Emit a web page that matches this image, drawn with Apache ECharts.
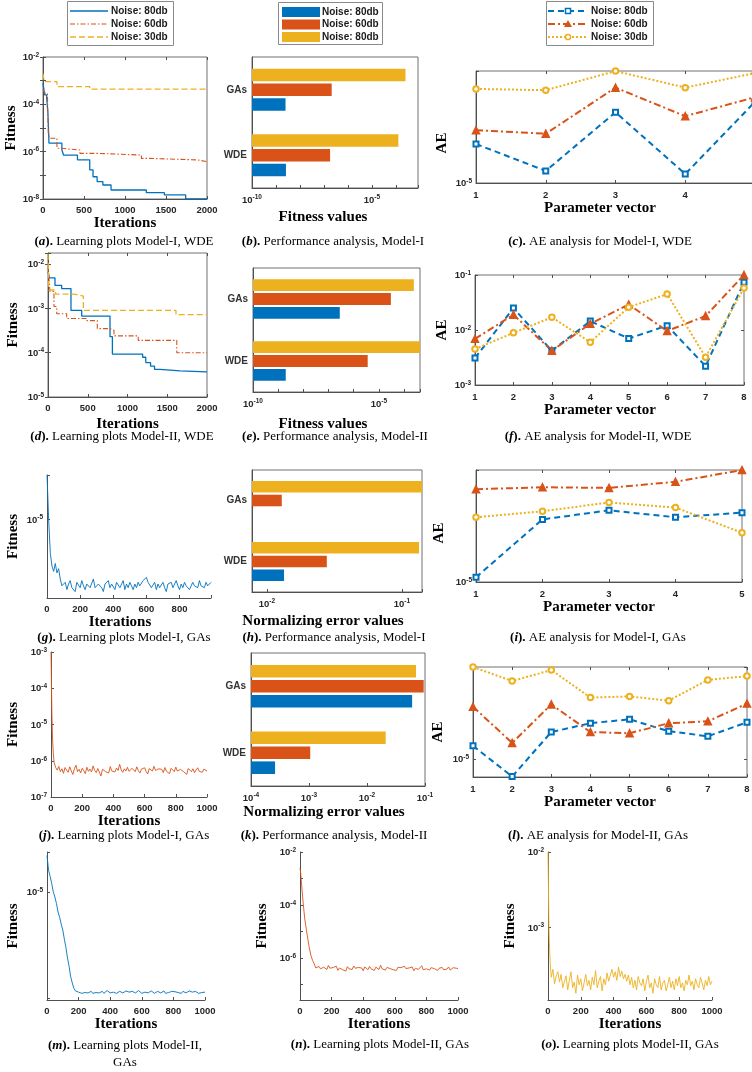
<!DOCTYPE html>
<html><head><meta charset="utf-8"><title>Learning and AE analysis</title>
<script src="https://cdn.jsdelivr.net/npm/echarts@6.0.0/dist/echarts.min.js"></script>
<style>html,body{margin:0;padding:0;background:#fff;}#chart{width:752px;height:1072px;}</style>
</head><body><div id="chart"></div>
<script>
// ===================== DATA =====================
// (a) Learning plots Model-I, WDE  (step curves)
const aIter80 = [0,20,45,60,73,230,250,420,570,610,660,730,830,1260,1480,1740,2000];
const aFit80  = [7.8e-4,2.5e-4,1.8e-4,4.2e-5,2.3e-6,1.2e-6,7.2e-7,4.5e-7,1.7e-7,8.7e-8,5.4e-8,3.9e-8,2.4e-8,1.85e-8,1.48e-8,1.02e-8,1.02e-8];
const aIter60 = [0,20,55,65,80,170,210,450,650,1200,1280,1880,2000];
const aFit60  = [4.1e-4,3.0e-4,1.5e-4,6.0e-6,3.7e-6,1.4e-6,1.17e-6,8.5e-7,7.2e-7,5.2e-7,4.5e-7,3.8e-7,3.8e-7];
const aIter30 = [0,15,170,570,2000];
const aFit30  = [2.0e-3,9.1e-4,5.6e-4,4.4e-4,4.4e-4];

// (d) Learning plots Model-II, WDE
const dIter80 = [0,20,88,172,289,424,780,810,1190,1230,1290,1340,1409,1660,2000];
const dFit80  = [6.7e-3,4.9e-3,3.3e-3,2.8e-3,9.0e-4,6.7e-4,2.3e-4,9.3e-5,7.9e-5,6.0e-5,5.0e-5,4.2e-5,3.9e-5,3.7e-5,3.6e-5];
const dIter60 = [0,25,75,110,235,490,620,780,830,1135,1620,2000];
const dFit60  = [9.0e-3,2.4e-3,1.1e-3,7.6e-4,5.9e-4,5.3e-4,3.5e-4,3.2e-4,2.4e-4,1.9e-4,1.0e-4,1.0e-4];
const dIter30 = [0,10,95,330,445,1610,2000];
const dFit30  = [1.7e-2,2.6e-3,2.1e-3,1.9e-3,9.0e-4,7.2e-4,7.2e-4];

// Bar panels: categories bottom -> top
const barCats = ['WDE','GAs'];
const b80 = [2.6e-9, 2.5e-9];   const b60 = [1.8e-7, 2.1e-7];   const b30 = [1.26e-4, 2.5e-4];
const e80 = [2.0e-9, 2.8e-7];   const e60 = [3.6e-6, 3.0e-5];   const e30 = [5.0e-4, 2.45e-4];
const h80 = [1.34e-2, 7.0e-3];  const h60 = [2.78e-2, 1.29e-2]; const h30 = [0.134, 0.16];
const k80 = [2.6e-4, 6.0e-2];   const k60 = [1.05e-3, 9.5e-2];  const k30 = [2.1e-2, 7.0e-2];

// AE panels
const cX = [1,2,3,4,5];
const c80 = [1.9e-5,1.22e-5,3.2e-5,1.16e-5,3.8e-5];
const c60 = [2.38e-5,2.25e-5,4.8e-5,3.0e-5,4.1e-5];
const c30 = [4.7e-5,4.6e-5,6.3e-5,4.8e-5,6.1e-5];
const fX = [1,2,3,4,5,6,7,8];
const f80 = [3.1e-3,2.5e-2,4.2e-3,1.45e-2,7.0e-3,1.2e-2,2.2e-3,7.4e-2];
const f60 = [6.9e-3,1.9e-2,4.2e-3,1.3e-2,2.9e-2,9.6e-3,1.8e-2,1.0e-1];
const f30 = [4.5e-3,8.9e-3,1.7e-2,6.0e-3,2.6e-2,4.5e-2,3.2e-3,5.8e-2];
const iX = [1,2,3,4,5];
const i80 = [1.08e-5,2.8e-5,3.25e-5,2.9e-5,3.13e-5];
const i60 = [4.6e-5,4.75e-5,4.7e-5,5.2e-5,6.3e-5];
const i30 = [2.9e-5,3.2e-5,3.7e-5,3.4e-5,2.25e-5];
const lX = [1,2,3,4,5,6,7,8];
const l80 = [1.30e-5,6.97e-6,1.72e-5,2.06e-5,2.23e-5,1.75e-5,1.58e-5,2.1e-5];
const l60 = [2.88e-5,1.38e-5,3.02e-5,1.72e-5,1.68e-5,2.06e-5,2.14e-5,3.07e-5];
const l30 = [6.46e-5,4.86e-5,6.07e-5,3.47e-5,3.55e-5,3.26e-5,4.97e-5,5.37e-5];

// Noisy learning curves: head [iteration, fitness] pairs, then tail sampled every 10 iterations
const gHead = [[0,2.2e-5],[5,1.5e-5],[10,1.0e-5],[20,5.5e-6],[30,4.4e-6],[40,4.0e-6],[50,4.6e-6],[60,3.9e-6],[70,4.2e-6],[80,3.5e-6],[90,3.1e-6]];
const gTailStart = 100;
const gTail = [3.0e-6,3.3e-6,2.9e-6,3.2e-6,3.4e-6,3.0e-6,3.1e-6,2.8e-6,3.3e-6,3.2e-6,
3.0e-6,3.4e-6,3.1e-6,2.9e-6,3.2e-6,3.3e-6,3.0e-6,3.1e-6,3.5e-6,3.0e-6,
2.9e-6,3.2e-6,3.3e-6,3.0e-6,2.8e-6,3.2e-6,3.1e-6,3.4e-6,3.0e-6,3.2e-6,
3.1e-6,2.9e-6,3.3e-6,3.2e-6,3.0e-6,3.1e-6,3.4e-6,2.9e-6,3.2e-6,3.0e-6,
3.3e-6,3.1e-6,2.9e-6,3.2e-6,3.0e-6,3.3e-6,3.1e-6,3.0e-6,3.4e-6,3.5e-6,
3.6e-6,3.3e-6,3.2e-6,3.0e-6,3.1e-6,3.3e-6,2.9e-6,3.2e-6,3.0e-6,3.1e-6,
3.3e-6,3.0e-6,2.8e-6,3.2e-6,3.1e-6,3.3e-6,3.0e-6,3.2e-6,3.4e-6,3.1e-6,
2.9e-6,3.2e-6,3.0e-6,3.3e-6,3.1e-6,3.2e-6,2.9e-6,3.0e-6,3.3e-6,3.1e-6,
3.2e-6,3.0e-6,3.4e-6,3.1e-6,3.2e-6,3.0e-6,3.3e-6,3.1e-6,3.2e-6,3.3e-6];

const jHead = [[0,1e-3],[3,1.2e-4],[6,1.8e-5],[10,4e-6],[15,1.6e-6],[20,9e-7],[30,6.5e-7],[40,5.5e-7],[50,7e-7],[60,5e-7],[70,6e-7],[80,4.5e-7],[90,6.5e-7]];
const jTailStart = 100;
const jTail = [5.5e-7,4.8e-7,6.8e-7,5.2e-7,4.2e-7,6.0e-7,7.5e-7,5.0e-7,5.8e-7,4.6e-7,
6.2e-7,5.3e-7,4.4e-7,6.6e-7,5.1e-7,5.9e-7,4.9e-7,7.2e-7,5.4e-7,4.7e-7,
6.1e-7,5.6e-7,3.8e-7,5.8e-7,6.4e-7,5.0e-7,5.5e-7,4.6e-7,6.9e-7,5.2e-7,
5.7e-7,4.9e-7,6.3e-7,5.4e-7,8.0e-7,5.6e-7,4.8e-7,6.0e-7,5.2e-7,6.6e-7,
5.1e-7,4.5e-7,6.2e-7,5.8e-7,5.0e-7,6.8e-7,5.3e-7,4.6e-7,5.9e-7,5.5e-7,
6.4e-7,5.0e-7,4.3e-7,6.1e-7,5.6e-7,5.2e-7,7.0e-7,5.4e-7,4.8e-7,6.0e-7,
5.3e-7,5.8e-7,4.7e-7,6.5e-7,5.1e-7,5.6e-7,4.4e-7,6.2e-7,5.5e-7,5.0e-7,
6.7e-7,5.2e-7,4.9e-7,5.8e-7,6.3e-7,5.0e-7,5.5e-7,4.2e-7,6.1e-7,5.4e-7,
5.0e-7,6.0e-7,4.7e-7,5.6e-7,6.4e-7,5.1e-7,5.3e-7,4.8e-7,5.9e-7,5.5e-7,5.2e-7];

const mHead = [[0,2.2e-5],[10,1.6e-5],[20,1.4e-5],[30,1.2e-5],[40,1.0e-5],[50,9.0e-6],[60,7.8e-6],[70,6.5e-6],[80,5.8e-6],[90,5.0e-6],[100,4.4e-6],[110,3.6e-6],[120,3.0e-6],[130,2.4e-6],[140,2.0e-6],[150,1.6e-6],[160,1.4e-6],[170,1.25e-6],[180,1.18e-6],[190,1.15e-6]];
const mTailStart = 200;
const mTail = [1.15e-6,1.18e-6,1.12e-6,1.16e-6,1.14e-6,1.19e-6,1.13e-6,1.15e-6,1.17e-6,1.12e-6,
1.16e-6,1.14e-6,1.18e-6,1.13e-6,1.15e-6,1.17e-6,1.12e-6,1.16e-6,1.19e-6,1.14e-6,
1.13e-6,1.16e-6,1.15e-6,1.18e-6,1.12e-6,1.14e-6,1.17e-6,1.15e-6,1.13e-6,1.16e-6,
1.18e-6,1.14e-6,1.15e-6,1.12e-6,1.17e-6,1.16e-6,1.13e-6,1.15e-6,1.19e-6,1.14e-6,
1.12e-6,1.16e-6,1.15e-6,1.17e-6,1.13e-6,1.14e-6,1.18e-6,1.15e-6,1.12e-6,1.16e-6,
1.17e-6,1.14e-6,1.13e-6,1.15e-6,1.18e-6,1.12e-6,1.16e-6,1.14e-6,1.15e-6,1.17e-6,
1.13e-6,1.16e-6,1.19e-6,1.14e-6,1.15e-6,1.12e-6,1.17e-6,1.15e-6,1.13e-6,1.16e-6,
1.18e-6,1.14e-6,1.15e-6,1.13e-6,1.17e-6,1.16e-6,1.12e-6,1.15e-6,1.14e-6,1.16e-6,1.15e-6];

const nHead = [[0,2.5e-3],[5,1.5e-3],[10,6e-4],[20,1.2e-4],[30,3e-5],[40,1.2e-5],[50,5e-6],[60,2.2e-6],[70,1.2e-6],[80,8e-7],[90,6e-7]];
const nTailStart = 100;
const nTail = [4.2e-7,3.6e-7,4.8e-7,3.9e-7,3.3e-7,4.5e-7,4.0e-7,3.7e-7,5.2e-7,4.1e-7,
3.5e-7,4.4e-7,3.8e-7,4.9e-7,3.4e-7,4.2e-7,4.6e-7,3.6e-7,4.0e-7,3.2e-7,
4.7e-7,3.9e-7,4.3e-7,3.7e-7,5.0e-7,4.1e-7,3.5e-7,4.4e-7,3.8e-7,4.2e-7,
3.3e-7,4.6e-7,4.0e-7,3.6e-7,4.8e-7,3.9e-7,4.3e-7,3.4e-7,4.5e-7,4.1e-7,
3.7e-7,5.3e-7,3.9e-7,4.2e-7,3.5e-7,4.4e-7,3.8e-7,4.0e-7,4.7e-7,3.6e-7,
4.1e-7,3.4e-7,4.5e-7,3.9e-7,4.3e-7,3.7e-7,4.9e-7,4.0e-7,3.5e-7,4.2e-7,
3.8e-7,4.6e-7,3.3e-7,4.1e-7,4.4e-7,3.7e-7,4.0e-7,5.1e-7,3.6e-7,4.2e-7,
3.9e-7,4.5e-7,3.5e-7,4.3e-7,3.8e-7,4.0e-7,4.7e-7,3.4e-7,4.1e-7,3.9e-7,
4.4e-7,3.6e-7,4.2e-7,3.8e-7,4.6e-7,3.5e-7,4.0e-7,4.3e-7,3.7e-7,4.1e-7,4.0e-7];

const oHead = [[0,1e-2],[3,3e-3],[6,1e-3],[10,5e-4],[15,3e-4],[20,2.2e-4],[30,2.8e-4],[40,1.8e-4],[50,2.3e-4],[60,2.6e-4],[70,1.9e-4],[80,2.4e-4],[90,1.6e-4]];
const oTailStart = 100;
const oTail = [1.7e-4,2.3e-4,1.5e-4,2.0e-4,2.6e-4,1.6e-4,1.9e-4,1.35e-4,2.35e-4,1.75e-4,
2.1e-4,1.45e-4,1.85e-4,2.4e-4,1.7e-4,2.0e-4,1.5e-4,2.2e-4,1.75e-4,2.7e-4,
1.6e-4,1.95e-4,2.25e-4,1.45e-4,2.1e-4,1.75e-4,2.5e-4,1.95e-4,2.35e-4,2.8e-4,
2.2e-4,2.6e-4,2.0e-4,3.0e-4,2.25e-4,2.65e-4,2.1e-4,2.4e-4,1.95e-4,2.35e-4,
1.75e-4,2.2e-4,1.6e-4,2.0e-4,1.5e-4,2.25e-4,1.85e-4,1.7e-4,2.1e-4,1.45e-4,
1.95e-4,2.35e-4,1.6e-4,1.85e-4,1.35e-4,2.1e-4,1.75e-4,1.6e-4,2.25e-4,1.5e-4,
1.85e-4,2.0e-4,1.45e-4,1.75e-4,2.2e-4,1.6e-4,1.95e-4,1.5e-4,2.1e-4,1.7e-4,
2.25e-4,1.6e-4,1.85e-4,1.45e-4,2.0e-4,1.75e-4,2.35e-4,1.7e-4,1.95e-4,1.5e-4,
2.1e-4,1.75e-4,1.6e-4,2.2e-4,1.85e-4,1.5e-4,2.0e-4,1.7e-4,2.25e-4,1.75e-4,1.95e-4];
const tailStep = 10;

const legendLabelsLines = ['Noise: 80db','Noise: 60db','Noise: 30db'];
const legendLabelsBars  = ['Noise: 80db','Noise: 60db','Noise: 80db'];

// ===================== STYLE / HELPERS =====================
const BLUE='#0072BD', RED='#D95319', YEL='#EDB120';
const SANS='"Liberation Sans", Arial, sans-serif';
const SERIF='"Liberation Serif", "Times New Roman", serif';
const TXT='#262626', AXC='#505050', BOXC='#707070';

function merge(a,b){ const o=Array.isArray(a)?a.slice():Object.assign({},a); for(const k in b){ const v=b[k]; if(v&&typeof v==='object'&&!Array.isArray(v)&&o[k]&&typeof o[k]==='object'&&!Array.isArray(o[k])) o[k]=merge(o[k],v); else o[k]=v; } return o; }
function pairs(xs,ys){ return xs.map((x,i)=>[x,ys[i]]); }
function headTail(head,start,tail){ const out=head.map(p=>p.slice()); tail.forEach((v,i)=>out.push([start+i*tailStep,v])); return out; }

const supRich = {
  n:{fontFamily:SANS,fontWeight:'bold',fontSize:9.5,color:TXT,lineHeight:11,verticalAlign:'bottom'},
  s:{fontFamily:SANS,fontWeight:'bold',fontSize:6.5,color:TXT,lineHeight:7,verticalAlign:'top'}
};
function logFmt(list){ return function(v){ const e=Math.log10(v); const r=Math.round(e); if(Math.abs(e-r)>1e-6) return ''; if(list.indexOf(r)<0) return ''; return '{n|10}{s|'+r+'}'; }; }

const grids=[], xAxes=[], yAxes=[], series=[], xMirror=[], yMirror=[];
function baseAxis(gi){
  return { gridIndex:gi, axisLine:{show:true,onZero:false,lineStyle:{color:AXC,width:1}},
    axisTick:{show:true,inside:true,length:3,lineStyle:{color:AXC}}, splitLine:{show:false},
    axisLabel:{color:TXT,fontFamily:SANS,fontWeight:'bold',fontSize:9.5,margin:6},
    nameLocation:'middle', nameTextStyle:{fontFamily:SERIF,fontWeight:'bold',fontSize:15,color:'#000'} };
}
function mkAxis(gi, spec){
  let ax = baseAxis(gi);
  if(spec.type==='log'){
    ax = merge(ax,{type:'log',logBase:10,min:spec.min,max:spec.max,
      axisLabel:{formatter:logFmt(spec.labels),rich:supRich,hideOverlap:false}});
  } else if(spec.type==='category'){
    ax = merge(ax,{type:'category',data:spec.data,axisTick:{show:false},
      axisLabel:{color:'#333',fontSize:10,margin:5}});
  } else {
    const step=spec.interval;
    ax = merge(ax,{type:'value',min:spec.min,max:spec.max,interval:step,
      axisLabel:{formatter:function(v){ return (Math.abs(v/step-Math.round(v/step))<1e-9)?String(v):''; }}});
  }
  if(spec.name){ ax.name=spec.name; ax.nameGap=spec.nameGap; if(spec.pad) ax.nameTextStyle=merge(ax.nameTextStyle,{padding:spec.pad}); }
  if(spec.margin!=null) ax.axisLabel=merge(ax.axisLabel,{margin:spec.margin});
  return ax;
}
function mirrorOf(ax,pos){
  const m=Object.assign({},ax);
  delete m.name;
  m.position=pos; m.axisLabel={show:false}; m.axisLine={show:false};
  m.axisTick={show:ax.type!=='category',inside:true,length:3,lineStyle:{color:AXC}};
  return m;
}
function panel(g, box, xs, ys, mirror){
  const gi=grids.length;
  grids.push(Object.assign({show:box,borderColor:BOXC,borderWidth:1,backgroundColor:'transparent',containLabel:false,outerBoundsMode:'none'},g));
  const xa=mkAxis(gi,xs), ya=mkAxis(gi,ys);
  xAxes.push(xa); yAxes.push(ya);
  if(mirror){ xMirror.push(mirrorOf(xa,'top')); yMirror.push(mirrorOf(ya,'right')); }
  return gi;
}

function addLine(gi,data,color,type,width,step){
  series.push({type:'line',xAxisIndex:gi,yAxisIndex:gi,data:data,step:step||false,symbol:'none',showSymbol:false,
    lineStyle:{color:color,width:width,type:type},itemStyle:{color:color},silent:true,animation:false,clip:true});
}
const AESTY = {
  b:{color:BLUE,dash:[6,4],sym:'emptyRect',size:5},
  r:{color:RED,dash:[7,3,2,3],sym:'triangle',size:7},
  y:{color:YEL,dash:[2,2],sym:'emptyCircle',size:5.5}
};
function addAE(gi,xs,ys,k){
  const s=AESTY[k];
  series.push({type:'line',xAxisIndex:gi,yAxisIndex:gi,data:pairs(xs,ys),symbol:s.sym,symbolSize:s.size,showSymbol:true,
    lineStyle:{color:s.color,width:2,type:s.dash},itemStyle:{color:s.color,borderColor:s.color,borderWidth:1.5},
    silent:true,animation:false,clip:false});
}
function addBars(gi,vals,color,off,xmin){
  series.push({type:'custom',xAxisIndex:gi,yAxisIndex:gi,data:vals.map((v,i)=>[v,i]),encode:{x:0,y:1},silent:true,animation:false,
    renderItem:function(params,api){
      const ci=api.value(1), v=api.value(0);
      const p1=api.coord([xmin,ci]), p2=api.coord([v,ci]);
      const band=params.coordSys.height/barCats.length;
      const h=band*0.19;
      const r=echarts.graphic.clipRectByRect({x:p1[0],y:p1[1]+off*band-h/2,width:Math.max(0,p2[0]-p1[0]),height:h},params.coordSys);
      return r ? {type:'rect',shape:r,style:{fill:color}} : null;
    }});
}

// ===================== PANELS =====================
// Row 1
const A = panel({left:43,top:57,width:164,height:142},true,
  {type:'value',min:0,max:2000,interval:500,name:'Iterations',nameGap:15},
  {type:'log',min:1e-8,max:1e-2,labels:[-8,-6,-4,-2],name:'Fitness',nameGap:22,margin:4},true);
addLine(A,pairs(aIter80,aFit80),BLUE,'solid',1.3,'end');
addLine(A,pairs(aIter60,aFit60),RED,[5,2,1.5,2],1.1,'end');
addLine(A,pairs(aIter30,aFit30),YEL,[6,3],1.3,'end');

const B = panel({left:252,top:57,width:166,height:131},true,
  {type:'log',min:1e-10,max:8.3e-4,labels:[-10,-5],name:'Fitness values',nameGap:22,pad:[0,24,0,0]},
  {type:'category',data:barCats});
addBars(B,b80,BLUE,0.225,1e-10); addBars(B,b60,RED,0,1e-10); addBars(B,b30,YEL,-0.225,1e-10);

const Cc = panel({left:476,top:71,width:279,height:112},true,
  {type:'value',min:1,max:5,interval:1,name:'Parameter vector',nameGap:17,pad:[0,31,0,0],margin:7},
  {type:'log',min:1e-5,max:6.31e-5,labels:[-5],name:'AE',nameGap:26,pad:[0,32,0,0],margin:4},true);
addAE(Cc,cX,c80,'b'); addAE(Cc,cX,c60,'r'); addAE(Cc,cX,c30,'y');

// Row 2
const D = panel({left:48,top:253,width:159,height:144},true,
  {type:'value',min:0,max:2000,interval:500,name:'Iterations',nameGap:20},
  {type:'log',min:1e-5,max:1.78e-2,labels:[-5,-4,-3,-2],name:'Fitness',nameGap:27,margin:4},true);
addLine(D,pairs(dIter80,dFit80),BLUE,'solid',1.3,'end');
addLine(D,pairs(dIter60,dFit60),RED,[5,2,1.5,2],1.1,'end');
addLine(D,pairs(dIter30,dFit30),YEL,[6,3],1.3,'end');

const E = panel({left:253,top:268,width:167,height:124},true,
  {type:'log',min:1e-10,max:4.3e-4,labels:[-10,-5],name:'Fitness values',nameGap:25,pad:[0,27,0,0]},
  {type:'category',data:barCats});
addBars(E,e80,BLUE,0.225,1e-10); addBars(E,e60,RED,0,1e-10); addBars(E,e30,YEL,-0.225,1e-10);

const F = panel({left:475,top:275,width:269,height:110},true,
  {type:'value',min:1,max:8,interval:1,name:'Parameter vector',nameGap:17,pad:[0,19,0,0],margin:7},
  {type:'log',min:1e-3,max:1e-1,labels:[-3,-2,-1],name:'AE',nameGap:25,margin:4},true);
addAE(F,fX,f80,'b'); addAE(F,fX,f60,'r'); addAE(F,fX,f30,'y');

// Row 3
const G = panel({left:47,top:475,width:164,height:123},false,
  {type:'value',min:0,max:990,interval:200,name:'Iterations',nameGap:16,pad:[0,18,0,0]},
  {type:'log',min:2.5e-6,max:2.2e-5,labels:[-5],name:'Fitness',nameGap:26,margin:4});
addLine(G,headTail(gHead,gTailStart,gTail),BLUE,'solid',0.9);

const H = panel({left:252,top:470,width:170,height:122},true,
  {type:'log',min:7.76e-3,max:0.141,labels:[-2,-1],name:'Normalizing error values',nameGap:22,pad:[0,28,0,0]},
  {type:'category',data:barCats});
addBars(H,h80,BLUE,0.225,7.76e-3); addBars(H,h60,RED,0,7.76e-3); addBars(H,h30,YEL,-0.225,7.76e-3);

const I = panel({left:476,top:470,width:266,height:112},true,
  {type:'value',min:1,max:5,interval:1,name:'Parameter vector',nameGap:17,pad:[0,20,0,0],margin:7},
  {type:'log',min:1e-5,max:6.31e-5,labels:[-5],name:'AE',nameGap:29,pad:[0,14,0,0],margin:4},true);
addAE(I,iX,i80,'b'); addAE(I,iX,i60,'r'); addAE(I,iX,i30,'y');

// Row 4
const J = panel({left:51,top:652,width:156,height:145},false,
  {type:'value',min:0,max:1000,interval:200,name:'Iterations',nameGap:17},
  {type:'log',min:1e-7,max:1e-3,labels:[-7,-6,-5,-4,-3],name:'Fitness',nameGap:30,margin:4});
addLine(J,headTail(jHead,jTailStart,jTail),RED,'solid',0.9);

const K = panel({left:251,top:653,width:174,height:133},true,
  {type:'log',min:1e-4,max:1e-1,labels:[-4,-3,-2,-1],name:'Normalizing error values',nameGap:19,pad:[0,28,0,0]},
  {type:'category',data:barCats});
addBars(K,k80,BLUE,0.225,1e-4); addBars(K,k60,RED,0,1e-4); addBars(K,k30,YEL,-0.225,1e-4);

const L = panel({left:473,top:667,width:274,height:110},true,
  {type:'value',min:1,max:8,interval:1,name:'Parameter vector',nameGap:17,pad:[0,20,0,0],margin:7},
  {type:'log',min:6.9e-6,max:6.46e-5,labels:[-5],name:'AE',nameGap:27,pad:[0,20,0,0],margin:4},true);
addAE(L,lX,l80,'b'); addAE(L,lX,l60,'r'); addAE(L,lX,l30,'y');

// Row 5
const M = panel({left:47,top:852,width:158,height:148},false,
  {type:'value',min:0,max:1000,interval:200,name:'Iterations',nameGap:16},
  {type:'log',min:9.7e-7,max:2.38e-5,labels:[-5],name:'Fitness',nameGap:26,margin:4});
addLine(M,headTail(mHead,mTailStart,mTail),BLUE,'solid',0.9);

const N = panel({left:300,top:852,width:158,height:148},false,
  {type:'value',min:0,max:1000,interval:200,name:'Iterations',nameGap:16},
  {type:'log',min:2.6e-8,max:1e-2,labels:[-6,-4,-2],name:'Fitness',nameGap:30,margin:4});
addLine(N,headTail(nHead,nTailStart,nTail),RED,'solid',0.9);

const O = panel({left:548,top:852,width:164,height:148},false,
  {type:'value',min:0,max:1000,interval:200,name:'Iterations',nameGap:16},
  {type:'log',min:1.1e-4,max:1e-2,labels:[-3,-2],name:'Fitness',nameGap:30,margin:4});
addLine(O,headTail(oHead,oTailStart,oTail),YEL,'solid',0.9);

// ===================== LEGENDS & CAPTIONS (graphic) =====================
const graphics=[];
function legendText(x,y,t){ return {type:'text',x:x,y:y,style:{text:t,fill:'#1a1a1a',fontFamily:SANS,fontWeight:'bold',fontSize:10,align:'left',verticalAlign:'middle',textAlign:'left',textVerticalAlign:'middle'}}; }
function frame(x,y,w,h){ return {type:'rect',shape:{x:x,y:y,width:w,height:h},style:{fill:'#fff',stroke:'#8a8a8a',lineWidth:1}}; }
const rowsY=[11,24,37];
// (a) line legend
graphics.push(frame(67.5,1.5,106,44));
[[BLUE,null,1.5],[RED,[5,2,1.5,2],1.2],[YEL,[6,3],1.5]].forEach((s,i)=>{
  graphics.push({type:'line',shape:{x1:70,y1:rowsY[i],x2:108,y2:rowsY[i]},style:{stroke:s[0],lineWidth:s[2],lineDash:s[1]}});
  graphics.push(legendText(111,rowsY[i],legendLabelsLines[i]));
});
// (b) bar legend
graphics.push(frame(278.5,2.5,104,42));
[BLUE,RED,YEL].forEach((c,i)=>{
  graphics.push({type:'rect',shape:{x:282,y:[12,24.5,37][i]-5,width:38,height:10},style:{fill:c}});
  graphics.push(legendText(322,[12,24.5,37][i],legendLabelsBars[i]));
});
// (c) marker legend
graphics.push(frame(546.5,1.5,107,44));
[['b',[6,4]],['r',[7,3,2,3]],['y',[2,2]]].forEach((s,i)=>{
  const y=rowsY[i], st=AESTY[s[0]];
  graphics.push({type:'line',shape:{x1:548,y1:y,x2:587,y2:y},style:{stroke:st.color,lineWidth:2,lineDash:s[1]}});
  if(s[0]==='b') graphics.push({type:'rect',shape:{x:565.5,y:y-2.5,width:5,height:5},style:{fill:'#fff',stroke:BLUE,lineWidth:1.5}});
  if(s[0]==='r') graphics.push({type:'polygon',shape:{points:[[568,y-4],[572,y+3],[564,y+3]]},style:{fill:RED}});
  if(s[0]==='y') graphics.push({type:'circle',shape:{cx:568,cy:y,r:2.6},style:{fill:'#fff',stroke:YEL,lineWidth:1.5}});
  graphics.push(legendText(591,y,legendLabelsLines[i]));
});
// captions
const capRich = {
  b:{fontFamily:SERIF,fontWeight:'bold',fontSize:13,fill:'#000'},
  bi:{fontFamily:SERIF,fontWeight:'bold',fontStyle:'italic',fontSize:13,fill:'#000'},
  r:{fontFamily:SERIF,fontSize:13,fill:'#000',lineHeight:17}
};
function caption(cx,cy,letter,rest,rest2){
  let t='{b|(}{bi|'+letter+'}{b|).}{r| '+rest+'}';
  if(rest2) t+='\n{r|'+rest2+'}';
  graphics.push({type:'text',x:cx,y:cy,style:{text:t,rich:capRich,fill:'#000',
    align:'center',verticalAlign:rest2?'top':'middle',textAlign:'center',textVerticalAlign:rest2?'top':'middle'}});
}
caption(124,242,'a','Learning plots Model-I, WDE');
caption(333,242,'b','Performance analysis, Model-I');
caption(600,242,'c','AE analysis for Model-I, WDE');
caption(122,437,'d','Learning plots Model-II, WDE');
caption(335,437,'e','Performance analysis, Model-II');
caption(598,437,'f','AE analysis for Model-II, WDE');
caption(124,638,'g','Learning plots Model-I, GAs');
caption(334,638,'h','Performance analysis, Model-I');
caption(598,638,'i','AE analysis for Model-I, GAs');
caption(124,836,'j','Learning plots Model-I, GAs');
caption(334,836,'k','Performance analysis, Model-II');
caption(598,836,'l','AE analysis for Model-II, GAs');
caption(125,1037,'m','Learning plots Model-II,','GAs');
caption(380,1045,'n','Learning plots Model-II, GAs');
caption(630,1045,'o','Learning plots Model-II, GAs');

// ===================== CHART =====================
const chart = echarts.init(document.getElementById('chart'),null,{renderer:'canvas',width:752,height:1072});
chart.setOption({
  animation:false, backgroundColor:'#fff',
  textStyle:{fontFamily:SANS},
  grid:grids, xAxis:xAxes.concat(xMirror), yAxis:yAxes.concat(yMirror), series:series, graphic:{elements:graphics}
});
</script></body></html>
